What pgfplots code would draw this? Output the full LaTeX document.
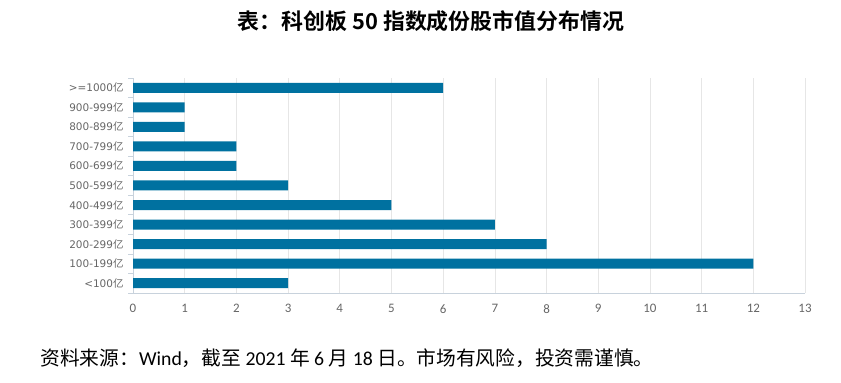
\documentclass[border=0pt]{standalone}
\usepackage{fontspec}
\usepackage{pgfplots}
\pgfplotsset{compat=1.18}
\setmainfont{Carlito}
\newfontfamily\cjk{Noto Sans CJK SC}
\newfontfamily\cjkb{Noto Sans CJK SC Bold}
\newfontfamily\dv{DejaVu Sans}
\definecolor{barc}{HTML}{0071A0}
\definecolor{lab}{HTML}{666666}
\definecolor{gridc}{HTML}{E6E6E6}
\definecolor{axc}{HTML}{C8D2DC}
\newcommand{\yi}{{\cjk 亿}}
\begin{document}
\begin{tikzpicture}[x=1bp,y=1bp]
\path (0,0) rectangle (841,382);
\node[font=\cjkb\fontsize{22}{26}\selectfont] at (431,361) {表：科创板 50 指数成份股市值分布情况};
\node[anchor=west,font=\fontsize{19.8}{23}\selectfont] at (37,24) {{\cjk 资料来源：}Wind{\cjk ，截至} 2021 {\cjk 年} 6 {\cjk 月} 18 {\cjk 日。市场有风险，投资需谨慎。}};
\begin{axis}[
  at={(133bp,89bp)}, anchor=south west,
  scale only axis, width=672bp, height=215bp,
  xbar, bar width=10bp,
  xmin=0, xmax=13, ymin=-0.5, ymax=10.5,
  xtick={0,...,13},
  ytick={0,...,10},
  yticklabels={{<100\yi},{100-199\yi},{200-299\yi},{300-399\yi},{400-499\yi},{500-599\yi},{600-699\yi},{700-799\yi},{800-899\yi},{900-999\yi},{>=1000\yi}},
  minor ytick={-0.5,0.5,...,10.5},
  yticklabel style={font=\dv\fontsize{10.5}{13}\selectfont, text=lab},
  xticklabel style={font=\fontsize{13}{15}\selectfont, text=lab},
  /pgf/number format/assume math mode=true,
  xmajorgrids, major grid style={gridc, line width=0.6bp},
  axis x line*=bottom, axis y line*=left,
  axis line style={axc, line width=0.8bp},
  x axis line style={-}, y axis line style={-},
  major tick length=0pt, minor tick length=5bp,
  tick align=outside,
  minor tick style={axc, line width=0.8bp},
  xticklabel shift=8bp, yticklabel shift=6bp,
  clip=false,
]
\addplot[fill=barc, draw=none] coordinates {
(3,0) (12,1) (8,2) (7,3) (5,4) (3,5) (2,6) (2,7) (1,8) (1,9) (6,10)};
\end{axis}
\end{tikzpicture}
\end{document}
